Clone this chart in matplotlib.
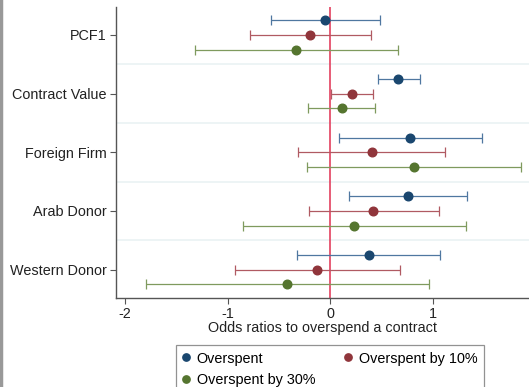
import matplotlib.pyplot as plt
import numpy as np

plt.rcParams["font.family"] = ["Liberation Sans", "DejaVu Sans"]

categories = ["PCF1", "Contract Value", "Foreign Firm", "Arab Donor", "Western Donor"]
series_names = ["Overspent", "Overspent by 10%", "Overspent by 30%"]

# point estimates and confidence bounds, one list per series
overspent = [-0.05, 0.66, 0.78, 0.76, 0.38]
overspent_lo = [-0.58, 0.46, 0.08, 0.18, -0.32]
overspent_hi = [0.48, 0.87, 1.48, 1.33, 1.07]

over10 = [-0.20, 0.21, 0.41, 0.42, -0.13]
over10_lo = [-0.78, 0.01, -0.31, -0.21, -0.93]
over10_hi = [0.40, 0.42, 1.12, 1.06, 0.68]

over30 = [-0.33, 0.11, 0.82, 0.23, -0.42]
over30_lo = [-1.32, -0.22, -0.23, -0.85, -1.80]
over30_hi = [0.66, 0.44, 1.86, 1.32, 0.96]

point_colors = ["#1a476f", "#90353b", "#55752f"]
line_colors = ["#4f77a0", "#b05a62", "#7f9a5e"]
offsets = [-0.25, 0.0, 0.25]
fs = 10.4

fig = plt.figure(figsize=(5.29, 3.87), dpi=100)
ax = fig.add_axes([116 / 529, 1 - 297.7 / 387, 1 - 116 / 529, (297.7 - 6.7) / 387])

y = np.arange(len(categories))

# separators between categories
for s in np.arange(0.5, len(categories) - 1, 1.0):
    ax.axhline(s, color="#eaf2f3", lw=1.2, zorder=0)

ax.axvline(0, color="#e3415f", lw=1.2, zorder=1)

all_series = [
    (overspent, overspent_lo, overspent_hi),
    (over10, over10_lo, over10_hi),
    (over30, over30_lo, over30_hi),
]
handles = []
for i, (est, lo, hi) in enumerate(all_series):
    est = np.array(est)
    err = np.vstack([est - np.array(lo), np.array(hi) - est])
    ax.errorbar(est, y + offsets[i], xerr=err, fmt="none", ecolor=line_colors[i],
                elinewidth=0.9, capsize=3.5, capthick=0.9, zorder=2)
    h = ax.plot(est, y + offsets[i], "o", color=point_colors[i], ms=6.2,
                mec=point_colors[i], zorder=3, label=series_names[i])[0]
    handles.append(h)

ax.set_yticks(y)
ax.set_yticklabels(categories, fontsize=fs, color="#222222")
ax.set_ylim(len(categories) - 1 + 0.48, -0.48)
ax.set_xlim(-2.088, 1.936)
ax.set_xticks([-2, -1, 0, 1])
ax.set_xticklabels(["-2", "-1", "0", "1"], fontsize=fs, color="#222222")
ax.set_xlabel("Odds ratios to overspend a contract", fontsize=fs, color="#222222", labelpad=0)

for side in ["top", "right"]:
    ax.spines[side].set_visible(False)
for side in ["left", "bottom"]:
    ax.spines[side].set_color("#555555")
    ax.spines[side].set_linewidth(1.0)
ax.tick_params(axis="both", direction="out", length=4, width=0.8, color="#555555", pad=2.5)

# legend order: column-wise fill gives row1 = Overspent, 10%; row2 = 30%
order = [0, 2, 1]
leg = fig.legend([handles[k] for k in order], [series_names[k] for k in order],
                 ncol=2, loc="upper left", mode="expand", borderaxespad=0,
                 bbox_to_anchor=(175.7 / 529, 1 - 345 / 387 - 0.01, (484 - 175.7) / 529, 0.01),
                 fontsize=fs, frameon=True, fancybox=False, edgecolor="#777777",
                 handlelength=0.5, handletextpad=0.5, borderpad=0.45, labelspacing=0.55,
                 markerscale=0.85)
leg.get_frame().set_linewidth(0.9)

# grey strip at the left edge of the picture
fig.add_artist(plt.Line2D([0.002, 0.002], [0, 1], transform=fig.transFigure,
                          color="#999999", lw=2.5))

fig.savefig("out.png", dpi=100)
